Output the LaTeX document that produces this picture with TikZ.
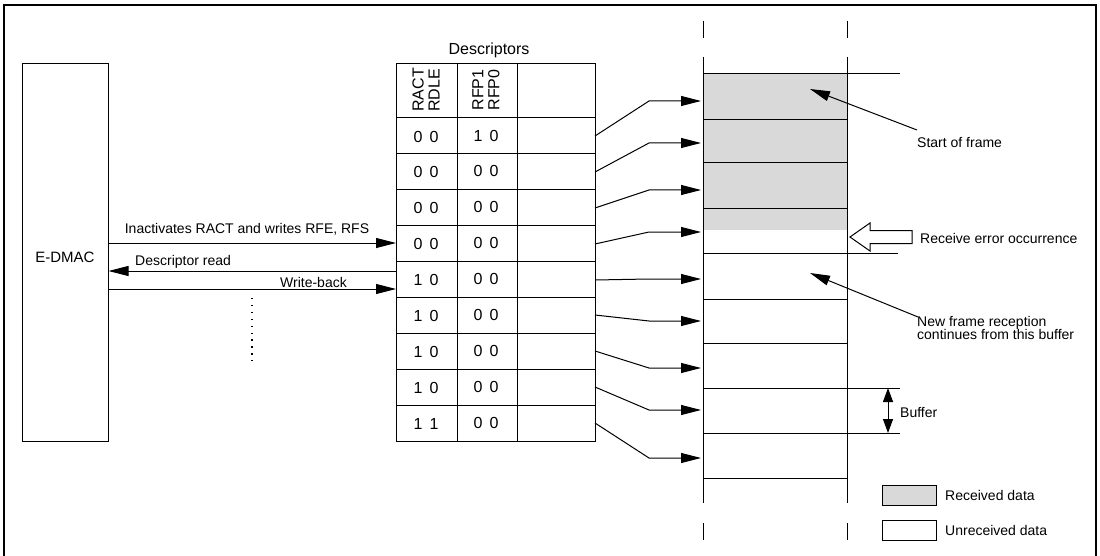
\documentclass[tikz,border=0pt]{standalone}
\usepackage{fontspec}
\setmainfont{Liberation Sans}
\usetikzlibrary{arrows.meta}
\definecolor{recv}{RGB}{217,217,217}
\begin{document}
\begin{tikzpicture}[x=1pt,y=-1pt,
  every node/.style={font=\fontsize{14}{13.5}\selectfont, inner sep=0pt},
  tabtxt/.style={font=\fontsize{16}{16}\selectfont},
  ln/.style={line width=1pt},
  arr/.style={ln,-{Triangle[length=20pt,width=10pt]}},
  lbl/.style={anchor=west},
  box/.style={draw, ln}
]
\useasboundingbox (0,0) rectangle (1100,556);
\draw[line width=2.6pt] (4,5) rectangle (1096,557);

% E-DMAC
\node[box, minimum width=86pt, minimum height=377pt] (edmac) at (65,252.5) {};
\node[font=\fontsize{15}{15}\selectfont] (edmaclbl) at (65,257) {E-DMAC};

% Descriptor table
\node[tabtxt] (desctitle) at (489,50) {Descriptors};
\node[box, minimum width=199pt, minimum height=377pt] (tab) at (495.5,252.5) {};
\draw[ln] (457,64) -- (457,441) (517,64) -- (517,441);
\foreach \i in {0,...,8} {
  \draw[ln] (396,{118+\i*35.89}) -- (595,{118+\i*35.89});
}
\node[tabtxt, rotate=90, align=left] (h1) at (426,90) {RACT\\RDLE};
\node[tabtxt, rotate=90, align=left] (h2) at (486,90) {RFP1\\RFP0};
\foreach \p/\q/\r/\s [count=\i from 0] in {0/0/1/0,0/0/0/0,0/0/0/0,0/0/0/0,1/0/0/0,1/0/0/0,1/0/0/0,1/0/0/0,1/1/0/0} {
  \node[tabtxt] (va\i) at (426,{136.5+\i*35.89}) {\p\hspace{0.45em}\q};
  \node[tabtxt] (vb\i) at (486,{135.5+\i*35.89}) {\r\hspace{0.45em}\s};
}

% Buffer column
\fill[recv] (703,74) rectangle (847,230);
\draw[ln] (703,57) -- (703,503) (847,57) -- (847,503);
\draw[ln] (703,21) -- (703,38) (847,21) -- (847,38);
\draw[ln] (703,523) -- (703,540) (847,523) -- (847,540);
\draw[ln] (703,74) -- (900,74);
\foreach \y in {120,163,209,299,343,478} { \draw[ln] (703,\y) -- (847,\y); }
\draw[ln] (703,253) -- (898,253);
\draw[ln] (703,388) -- (900,388);
\draw[ln] (703,433) -- (900,433);

% Descriptor -> buffer pointers
\foreach \s/\e [count=\i from 0] in {136/101,172/143,208/190,244/232,280/279,315/321,351/368,387/410,423/458} {
  \coordinate (r\i) at (595,\s);
  \coordinate (b\i) at (701,\e);
  \draw[arr] (r\i) -- (649,\e) -- (b\i);
}

% E-DMAC <-> descriptors
\coordinate (t1) at (396,243);
\coordinate (t2) at (396,271);
\coordinate (t3) at (396,289);
\draw[arr] (edmac.east |- t1) -- (t1);
\draw[arr] (t2) -- (edmac.east |- t2);
\draw[arr] (edmac.east |- t3) -- (t3);
\node (l1) at (247,229) {Inactivates RACT and writes RFE, RFS};
\node[anchor=west] (l2) at (135,262) {Descriptor read};
\node[anchor=east] (l3) at (347,282) {Write-back};
\draw[line width=1.3pt, dash pattern=on 1.3pt off 5.6pt] (252,298) -- (252,362);

% Annotations
\node[lbl] (sof) at (917,143) {Start of frame};
\coordinate (sofa) at (917,130);
\coordinate (sofb) at (810,89);
\draw[arr] (sofa) -- (sofb);

\draw[ln, fill=white] (850,237) -- (870,223) -- (870,230.5) -- (912,230.5) -- (912,243.5) -- (870,243.5) -- (870,251) -- cycle;
\node[lbl] (rerr) at (920,238) {Receive error occurrence};

\node[anchor=north west, align=left] (nfr) at (917,316) {New frame reception\\continues from this buffer};
\coordinate (nfra) at (918,317);
\coordinate (nfrb) at (810,273);
\draw[arr] (nfra) -- (nfrb);

\coordinate (bu1) at (888,388);
\coordinate (bu2) at (888,433);
\draw[ln, {Triangle[length=14pt,width=10pt]}-{Triangle[length=14pt,width=10pt]}] (bu1) -- (bu2);
\node[lbl] (buf) at (900,412) {Buffer};

% Legend
\node[box, fill=recv, minimum width=54pt, minimum height=20pt] (lg1) at (909,495) {};
\node[lbl] (lg1t) at (945,495) {Received data};
\node[box, fill=white, minimum width=54pt, minimum height=20pt] (lg2) at (909,530) {};
\node[lbl] (lg2t) at (945,530) {Unreceived data};
\end{tikzpicture}
\end{document}
